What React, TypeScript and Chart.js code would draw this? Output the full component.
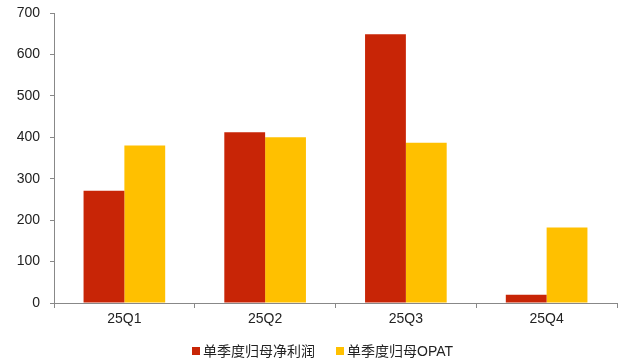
import React, { useEffect, useRef } from "react";
import { Chart, registerables } from "chart.js";

Chart.register(...registerables);

const categories = ["25Q1", "25Q2", "25Q3", "25Q4"];
const netProfit = [271, 412, 649, 20];
const opat = [380, 400, 387, 182];
const seriesNames = ["单季度归母净利润", "单季度归母OPAT"];
const seriesColors = ["#C82506", "#FFC000"];
const yTicks = [0, 100, 200, 300, 400, 500, 600, 700];

const FONT = "'Liberation Sans', Arial, 'Noto Sans CJK SC', sans-serif";

export default function App() {
  const ref = useRef<HTMLCanvasElement | null>(null);
  useEffect(() => {
    document.body.style.margin = "0";
    const ctx = ref.current!;
    const chart = new Chart(ctx, {
      type: "bar",
      data: {
        labels: categories,
        datasets: [
          { label: seriesNames[0], data: netProfit, backgroundColor: seriesColors[0], categoryPercentage: 0.58, barPercentage: 1 },
          { label: seriesNames[1], data: opat, backgroundColor: seriesColors[1], categoryPercentage: 0.58, barPercentage: 1 },
        ],
      },
      options: {
        animation: false,
        responsive: false,
        maintainAspectRatio: false,
        layout: { padding: { top: 13, right: 8, left: 0, bottom: 29 } },
        plugins: {
          tooltip: { enabled: false },
          legend: { display: false },
        },
        scales: {
          x: {
            grid: { display: true, drawOnChartArea: false, offset: true, tickLength: 5, color: "#888" },
            border: { color: "#888" },
            ticks: { color: "#222", font: { family: FONT, size: 14 }, padding: 3 },
            afterFit: (s: any) => { s.height = 30; s.paddingLeft = 0; s.paddingRight = 0; },
          },
          y: {
            min: 0,
            max: 700,
            afterBuildTicks: (s: any) => { s.ticks = yTicks.map((v) => ({ value: v })); },
            grid: { display: true, drawOnChartArea: false, tickLength: 4, color: "#888" },
            border: { color: "#888" },
            ticks: { color: "#222", font: { family: FONT, size: 14 }, padding: 10 },
            afterFit: (s: any) => { s.width = 54; s.paddingTop = 0; s.paddingBottom = 0; },
          },
        },
      },
    });
    return () => chart.destroy();
  }, []);
  return (
    <div style={{ position: "relative", width: 625, height: 362 }}>
      <canvas ref={ref} width={625} height={362} style={{ display: "block" }} />
      <div
        style={{
          position: "absolute",
          left: 192,
          top: 341,
          display: "flex",
          alignItems: "center",
          fontFamily: FONT,
          fontSize: 14,
          color: "#222",
          lineHeight: "20px",
          whiteSpace: "nowrap",
        }}
      >
        {seriesNames.map((n, i) => (
          <div key={n} style={{ display: "flex", alignItems: "center", marginRight: i === 0 ? 21 : 0 }}>
            <span style={{ display: "inline-block", width: 8, height: 8, background: seriesColors[i], marginRight: 3 }} />
            <span>{n}</span>
          </div>
        ))}
      </div>
    </div>
  );
}
